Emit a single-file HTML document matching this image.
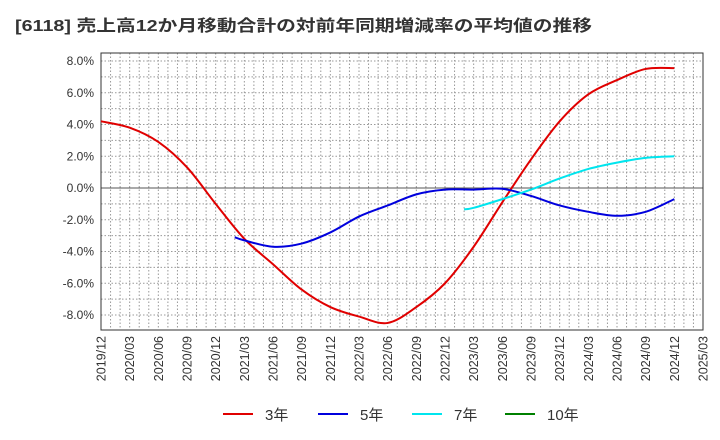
<!DOCTYPE html>
<html><head><meta charset="utf-8">
<style>
body{margin:0;background:#fff;}
svg{display:block;font-family:"Liberation Sans","Noto Sans CJK JP",sans-serif;}
</style></head>
<body>
<svg id="chart" width="720" height="440" viewBox="0 0 720 440">
<text x="15" y="31" font-size="16" font-weight="bold" fill="#333" textLength="577" lengthAdjust="spacingAndGlyphs">[6118]  売上高12か月移動合計の対前年同期増減率の平均値の推移</text>
<g id="grid"></g><g id="axes"></g><g id="series"></g><g id="legend"></g>
</svg>
<script>
const dates3 = ["2019/12","2020/03","2020/06","2020/09","2020/12","2021/03","2021/06","2021/09","2021/12","2022/03","2022/06","2022/09","2022/12","2023/03","2023/06","2023/09","2023/12","2024/03","2024/06","2024/09","2024/12"];
const vals3 = [4.2,3.8,2.9,1.3,-1.0,-3.2,-4.8,-6.4,-7.5,-8.1,-8.5,-7.5,-6.0,-3.7,-0.9,1.8,4.2,5.9,6.8,7.5,7.55];
const dates5 = ["2021/02","2021/03","2021/06","2021/09","2021/12","2022/03","2022/06","2022/09","2022/12","2023/03","2023/06","2023/09","2023/12","2024/03","2024/06","2024/09","2024/12"];
const vals5 = [-3.1,-3.3,-3.7,-3.5,-2.8,-1.8,-1.1,-0.4,-0.1,-0.1,-0.05,-0.5,-1.1,-1.5,-1.75,-1.5,-0.7];
const dates7 = ["2023/02","2023/03","2023/06","2023/09","2023/12","2024/03","2024/06","2024/09","2024/12"];
const vals7 = [-1.35,-1.25,-0.7,-0.1,0.6,1.2,1.6,1.9,2.0];
const dates10 = [];
const vals10 = [];
const yTicks = [-8,-6,-4,-2,0,2,4,6,8];
const xTicks = ["2019/12","2020/03","2020/06","2020/09","2020/12","2021/03","2021/06","2021/09","2021/12","2022/03","2022/06","2022/09","2022/12","2023/03","2023/06","2023/09","2023/12","2024/03","2024/06","2024/09","2024/12","2025/03"];

const L=101,R=703,T=53,B=330;
const NS="http://www.w3.org/2000/svg";
function mi(d){const [y,m]=d.split("/").map(Number);return (y-2019)*12+m-12;}
function X(d){return L+(R-L)*mi(d)/63;}
function Y(v){return 188-v*(254/16);}
function el(t,a,p){const e=document.createElementNS(NS,t);for(const k in a)e.setAttribute(k,a[k]);document.getElementById(p).appendChild(e);return e;}

for(let i=0;i<=63;i++){const x=L+(R-L)*i/63;
 const g=el("line",{x1:x,x2:x,y1:T,y2:B,stroke:"#999","stroke-dasharray":"1.5,2","stroke-width":1},"grid");
 
 }
for(let v=-9;v<=8.5;v+=1){const y=Y(v);if(y<T||y>B)continue;
 const g=el("line",{x1:L,x2:R,y1:y,y2:y,stroke:v===0?"#555":"#999","stroke-dasharray":v===0?"none":"1.5,2","stroke-width":1},"grid");
 
 }
const fr=el("rect",{x:L,y:T,width:R-L,height:B-T,fill:"none",stroke:"#333","stroke-width":1},"axes");


yTicks.forEach(v=>{const t=el("text",{x:L-7,y:Y(v)+4,"text-anchor":"end","font-size":12,fill:"#333"},"axes");t.textContent=v.toFixed(1)+"%";
 
 });
xTicks.forEach(d=>{const x=X(d);const t=el("text",{x:0,y:0,"text-anchor":"end","font-size":12.5,fill:"#333",transform:`translate(${x+4.5},${B+6}) rotate(-90)`},"axes");t.textContent=d;
 
 });

function smooth(pts){let d=`M${pts[0][0]},${pts[0][1]}`;
 for(let i=0;i<pts.length-1;i++){const p0=pts[i-1]||pts[i],p1=pts[i],p2=pts[i+1],p3=pts[i+2]||p2;
  const c1=[p1[0]+(p2[0]-p0[0])/6,p1[1]+(p2[1]-p0[1])/6],c2=[p2[0]-(p3[0]-p1[0])/6,p2[1]-(p3[1]-p1[1])/6];
  d+=` C${c1[0]},${c1[1]} ${c2[0]},${c2[1]} ${p2[0]},${p2[1]}`;}
 return d;}
function series(ds,vs,color,name){if(!ds.length)return;
 const p=el("path",{d:smooth(ds.map((d,i)=>[X(d),Y(vs[i])])),fill:"none",stroke:color,"stroke-width":2},"series");
 
 }
series(dates3,vals3,"#e00000","line-3yr");
series(dates5,vals5,"#0000dd","line-5yr");
series(dates7,vals7,"#00e5ee","line-7yr");
series(dates10,vals10,"#008000","line-10yr");

[["3年","#e00000",223],["5年","#0000dd",318],["7年","#00e5ee",412],["10年","#008000",505]].forEach(([lab,c,x])=>{
 const l=el("line",{x1:x,x2:x+30,y1:414,y2:414,stroke:c,"stroke-width":2},"legend");
 
 
 const t=el("text",{x:x+42,y:420,"font-size":15,fill:"#333"},"legend");t.textContent=lab;
 
 });
</script>
</body></html>
